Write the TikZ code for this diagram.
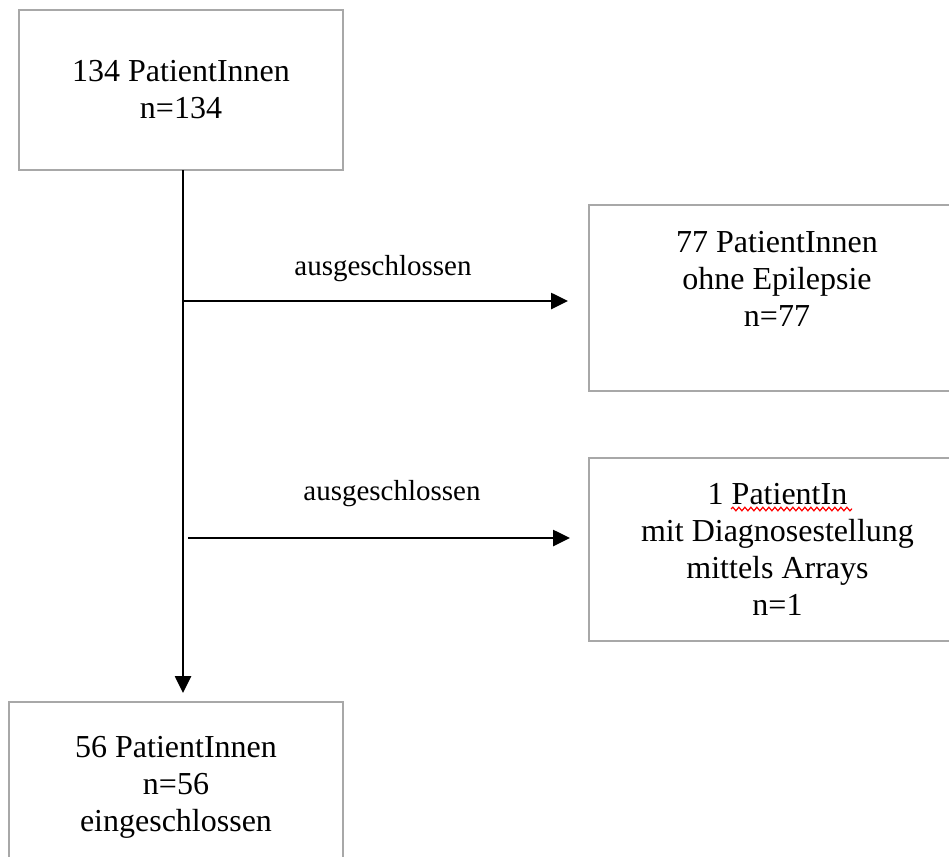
\documentclass[tikz,border=0pt]{standalone}
\usepackage{fontspec}
\setmainfont{Liberation Serif}
\usetikzlibrary{arrows.meta,calc,decorations.pathmorphing}
\definecolor{boxgray}{RGB}{168,168,168}
\begin{document}
\begin{tikzpicture}[x=1pt,y=-1pt,
  box/.style={draw=boxgray, line width=2.6pt, rectangle, inner sep=0pt, align=center,
              font=\fontsize{32}{37}\selectfont},
  txt/.style={inner sep=0pt, align=center, font=\fontsize{32}{37}\selectfont},
  lbl/.style={inner sep=0pt, anchor=base, font=\fontsize{29}{34}\selectfont},
  arr/.style={line width=2.6pt, -{Triangle[length=17pt,width=16pt]}}]
\useasboundingbox (0,0) rectangle (949,856);
\clip (0,0) rectangle (949,856);
\fill[white] (0,0) rectangle (949,856);

\node[box, minimum width=324pt, minimum height=160pt] (b1) at (181,90)
  {134 PatientInnen\\n=134};
\node[box, minimum width=377pt, minimum height=186pt] (b2) at (777.5,298) {};
\node[txt] (t2) at (777,279) {77 PatientInnen\\ohne Epilepsie\\n=77};
\node[box, minimum width=377pt, minimum height=183pt] (b3) at (777.5,549.5)
  {1 PatientIn\\mit Diagnosestellung\\mittels Arrays\\n=1};
\node[box, minimum width=334pt, minimum height=170pt] (b4) at (176,787)
  {56 PatientInnen\\n=56\\eingeschlossen};

\coordinate (v1) at (183,170);
\coordinate (v2) at (183,693);
\coordinate (j1) at (183,301);
\coordinate (e1) at (568,301);
\coordinate (j2) at (188,538);
\coordinate (e2) at (570,538);

\draw[arr] (v1) -- (v2);
\draw[arr] (j1) -- (e1);
\draw[arr] (j2) -- (e2);

\node[lbl] (l1) at (383,275) {ausgeschlossen};
\node[lbl] (l2) at (392,500) {ausgeschlossen};

\coordinate (w1) at (731,509);
\coordinate (w2) at (852,509);
\draw[red, line width=1.2pt, decorate,
      decoration={snake, amplitude=1.8pt, segment length=6pt}] (w1) -- (w2);
\end{tikzpicture}
\end{document}
